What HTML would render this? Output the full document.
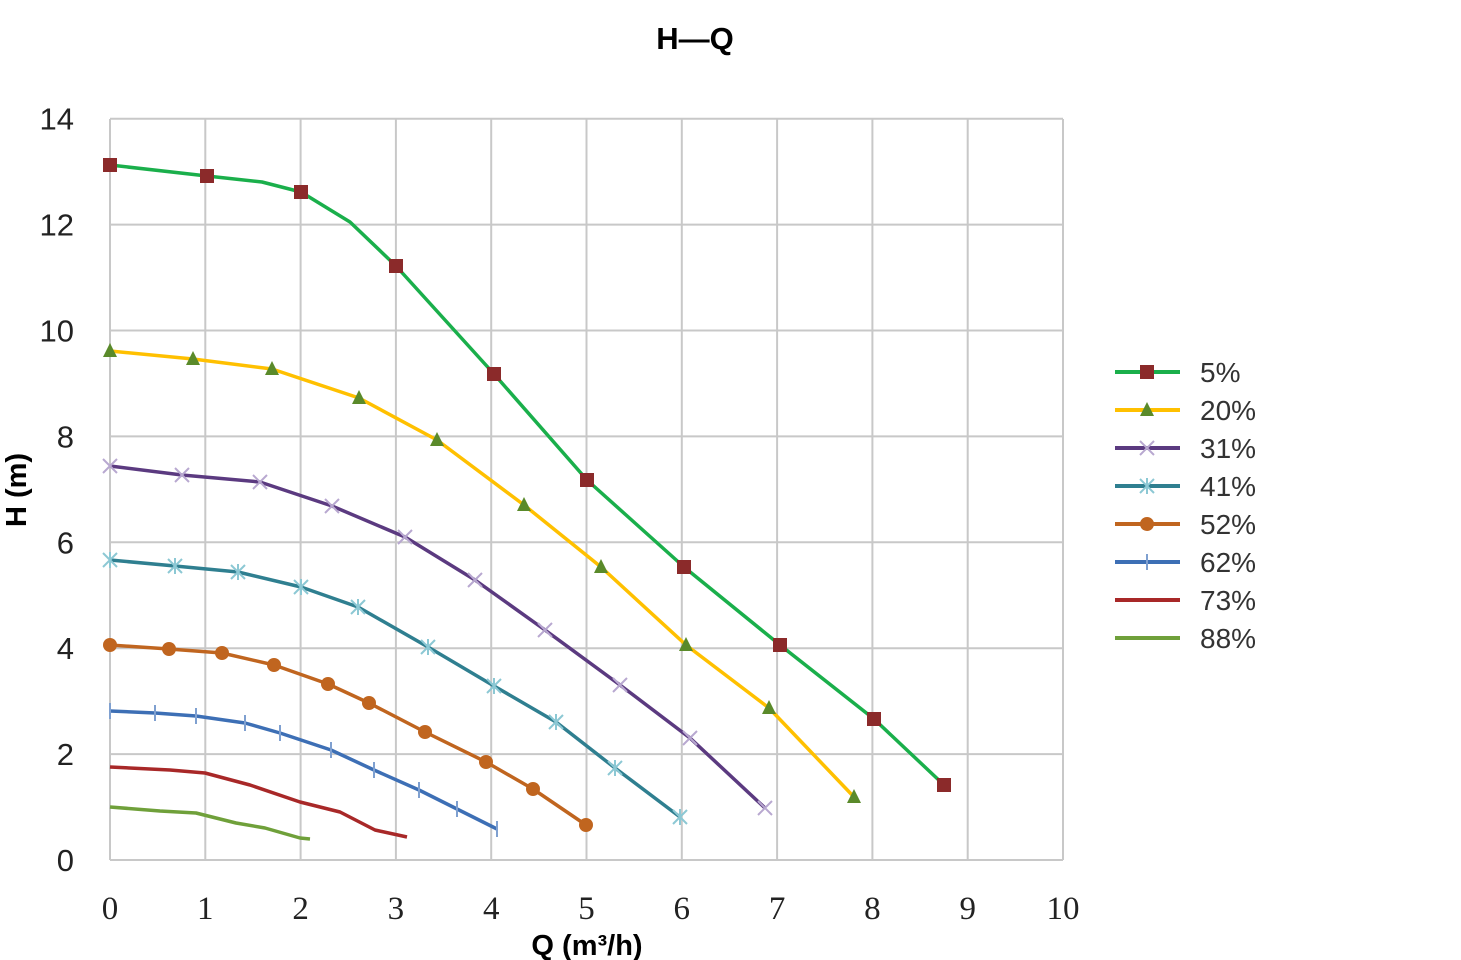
<!DOCTYPE html>
<html><head><meta charset="utf-8"><style>
body{margin:0;background:#fff;width:1461px;height:960px;overflow:hidden}
svg{display:block}
</style></head><body>
<svg id="s" width="1461" height="960" xmlns="http://www.w3.org/2000/svg">
<rect width="1461" height="960" fill="#fff"/>
<g id="grid" stroke="#c8c8c8" stroke-width="2"></g>
<text x="695" y="49" font-family="Liberation Sans, sans-serif" font-weight="bold" font-size="31" text-anchor="middle">H—Q</text>
<g id="yl" font-family="Liberation Sans, sans-serif" font-size="31" fill="#222" text-anchor="end"></g>
<g id="xl" font-family="Liberation Serif, serif" font-size="33" fill="#222" text-anchor="middle"></g>
<text x="587" y="955" font-family="Liberation Sans, sans-serif" font-weight="bold" font-size="29" text-anchor="middle">Q (m³/h)</text>
<text transform="translate(26,490) rotate(-90)" font-family="Liberation Sans, sans-serif" font-weight="bold" font-size="29" text-anchor="middle">H (m)</text>
<g id="series"></g>
<g id="legend" font-family="Liberation Sans, sans-serif" font-size="28" fill="#333"></g>
</svg>
<script>
const NS="http://www.w3.org/2000/svg";
function el(p,t,a,txt){const e=document.createElementNS(NS,t);for(const k in a)e.setAttribute(k,a[k]);if(txt!=null)e.textContent=txt;p.appendChild(e);return e;}
const g=document.getElementById('grid');
for(let i=0;i<=10;i++){const x=110+i*95.3;el(g,'line',{x1:x,y1:119,x2:x,y2:860});el(document.getElementById('xl'),'text',{x:x,y:919},i);}
for(let j=0;j<=7;j++){const y=860-j*105.9;el(g,'line',{x1:110,y1:y,x2:1063,y2:y});el(document.getElementById('yl'),'text',{x:74,y:y+11},j*2);}
const S=[
{c:'#1aaf4b',m:'sq',mc:'#8b2a2a',skip:[2,4],p:[[110,165],[207,176],[262,182],[301,192],[350,222],[396,266],[494,374],[587,480],[684,567],[780,645],[874,719],[944,785]]},
{c:'#ffc000',m:'tri',mc:'#5a8a2a',p:[[110,351],[193,359],[272,369],[359,398],[437,440],[524,505],[601,567],[686,645],[769,708],[854,797]]},
{c:'#5b3a80',m:'x',mc:'#b8a8d0',p:[[110,466],[182,475],[260,482],[332,506],[405,537],[475,580],[545,630],[620,685],[690,738],[765,808]]},
{c:'#2f7f90',m:'star',mc:'#8cc8d4',p:[[110,560],[175,566],[238,572],[301,587],[358,607],[428,647],[494,686],[556,722],[615,768],[680,817]]},
{c:'#c0651f',m:'circ',mc:'#c0651f',p:[[110,645],[169,649],[222,653],[274,665],[328,684],[369,703],[425,732],[486,762],[533,789],[586,825]]},
{c:'#3d6fb5',m:'plus',mc:'#7fa0d0',p:[[110,711],[155,713],[196,716],[245,723],[280,733],[331,750],[374,770],[419,790],[457,809],[497,829]]},
{c:'#a82828',m:null,p:[[110,767],[170,770],[205,773],[250,785],[300,802],[340,812],[375,830],[407,837]]},
{c:'#6fa03a',m:null,p:[[110,807],[160,811],[196,813],[236,823],[265,828],[300,838],[310,839]]}];
const sg=document.getElementById('series');
function marker(p,t,x,y,mc){
 if(t=='sq')el(p,'rect',{x:x-7,y:y-7,width:14,height:14,fill:mc});
 else if(t=='tri')el(p,'polygon',{points:`${x},${y-8} ${x+7},${y+6} ${x-7},${y+6}`,fill:mc});
 else if(t=='circ')el(p,'circle',{cx:x,cy:y,r:7,fill:mc});
 else if(t=='x'){el(p,'path',{d:`M${x-7} ${y-7}L${x+7} ${y+7}M${x+7} ${y-7}L${x-7} ${y+7}`,stroke:mc,'stroke-width':2});}
 else if(t=='star'){el(p,'path',{d:`M${x-7} ${y-7}L${x+7} ${y+7}M${x+7} ${y-7}L${x-7} ${y+7}M${x} ${y-8}L${x} ${y+8}`,stroke:mc,'stroke-width':2});}
 else if(t=='plus'){el(p,'path',{d:`M${x} ${y-8}L${x} ${y+8}`,stroke:mc,'stroke-width':2});}
}
const labels=['5%','20%','31%','41%','52%','62%','73%','88%'];
const lg=document.getElementById('legend');
S.forEach((s,i)=>{
 el(sg,'polyline',{points:s.p.map(q=>q.join(',')).join(' '),fill:'none',stroke:s.c,'stroke-width':3.5,'stroke-linejoin':'round'});
 if(s.m)s.p.forEach((q,k)=>{if(s.skip&&s.skip.includes(k))return;marker(sg,s.m,q[0],q[1],s.mc)});
 const y=372+i*38;
 el(lg,'line',{x1:1115,y1:y,x2:1180,y2:y,stroke:s.c,'stroke-width':4});
 if(s.m)marker(lg,s.m,1147,y,s.mc);
 el(lg,'text',{x:1200,y:y+10},labels[i]);
});
</script>
</body></html>
